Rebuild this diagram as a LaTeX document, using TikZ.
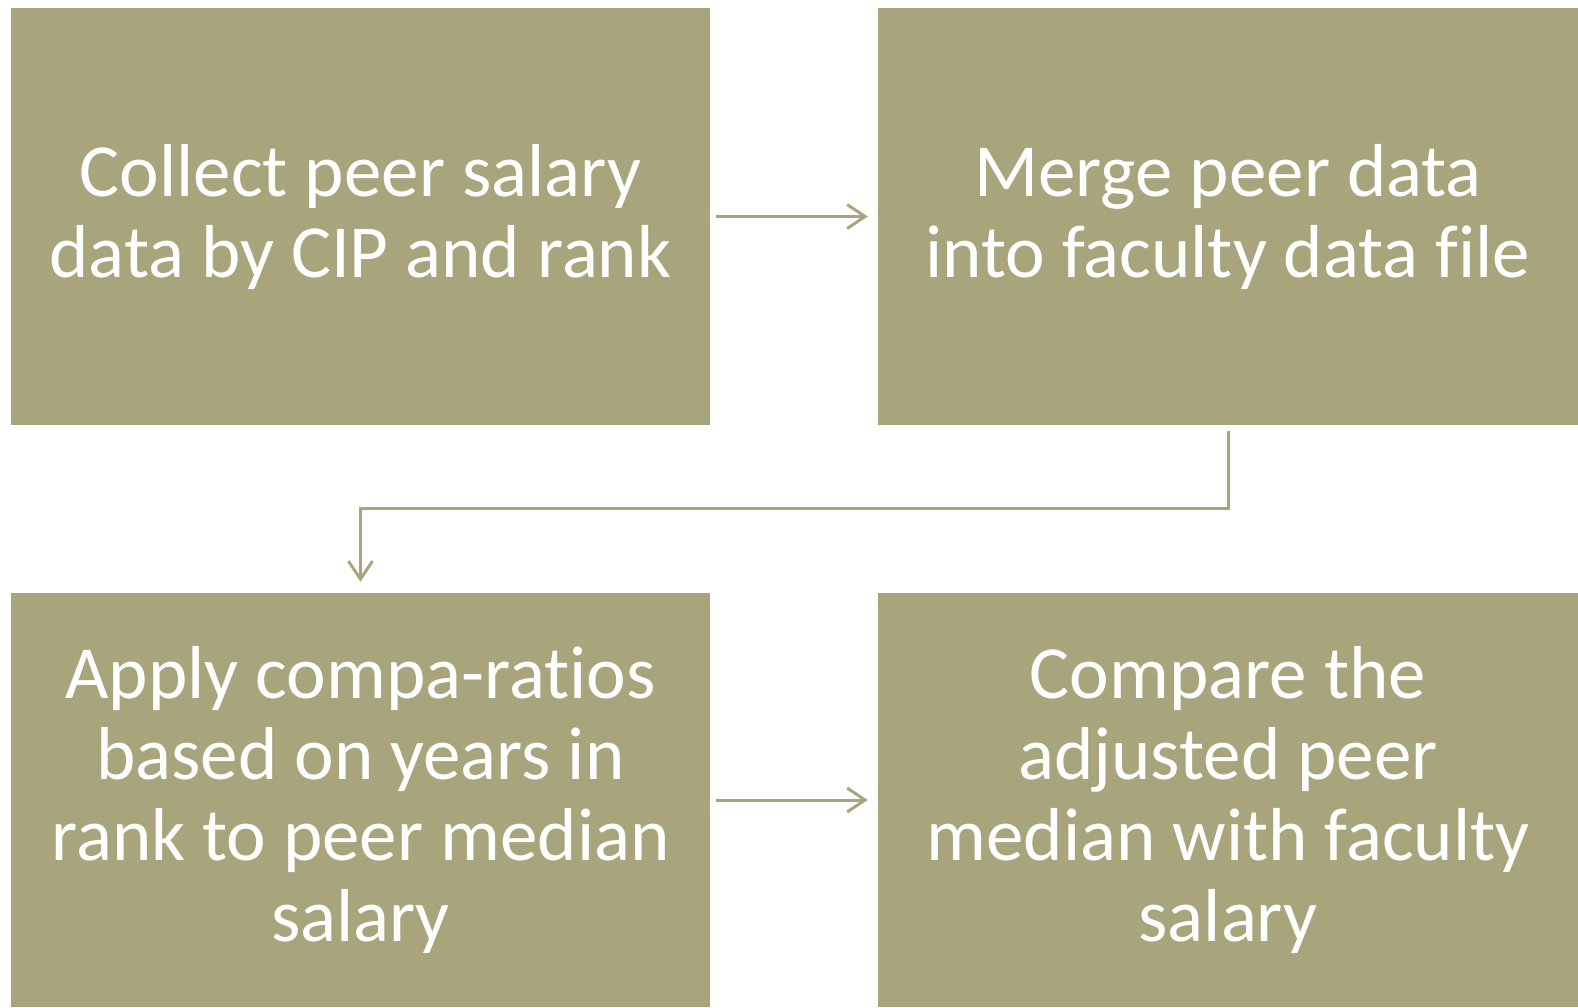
\documentclass[tikz,border=0pt]{standalone}
\usepackage{fontspec}
\setmainfont{Carlito}[Ligatures=NoCommon]
\usetikzlibrary{arrows.meta}
\definecolor{boxc}{RGB}{168,165,124}
\begin{document}
\begin{tikzpicture}[x=1pt,y=-1pt,
  stepbox/.style={fill=boxc,draw=none,text=white,align=center,inner sep=0pt,
    font=\fontsize{75}{81}\selectfont},
  conn/.style={draw=boxc,line width=3pt,-{Straight Barb[length=18pt,width=24pt,line width=3pt]}}]
\useasboundingbox (0,0) rectangle (1578,1007);
\fill[white] (0,0) rectangle (1578,1007);
\node[stepbox,minimum width=699pt,minimum height=417pt] (a) at (360.5,216.5) {Collect peer salary\\data by CIP and rank};
\node[stepbox,minimum width=700pt,minimum height=417pt] (b) at (1228,216.5) {Merge peer data\\into faculty data file};
\node[stepbox,minimum width=699pt,minimum height=414pt] (c) at (360.5,800) {Apply compa-ratios\\based on years in\\rank to peer median\\salary};
\node[stepbox,minimum width=700pt,minimum height=414pt] (d) at (1228,800) {Compare the\\adjusted peer\\median with faculty\\salary};
\draw[conn,shorten <=6pt,shorten >=10pt] (a.east) -- (b.west);
\draw[conn,shorten <=6pt,shorten >=10pt] (c.east) -- (d.west);
\draw[conn,shorten <=6pt,shorten >=11pt] (b.south) -- ++(0,83) -| (c.north);
\end{tikzpicture}
\end{document}
